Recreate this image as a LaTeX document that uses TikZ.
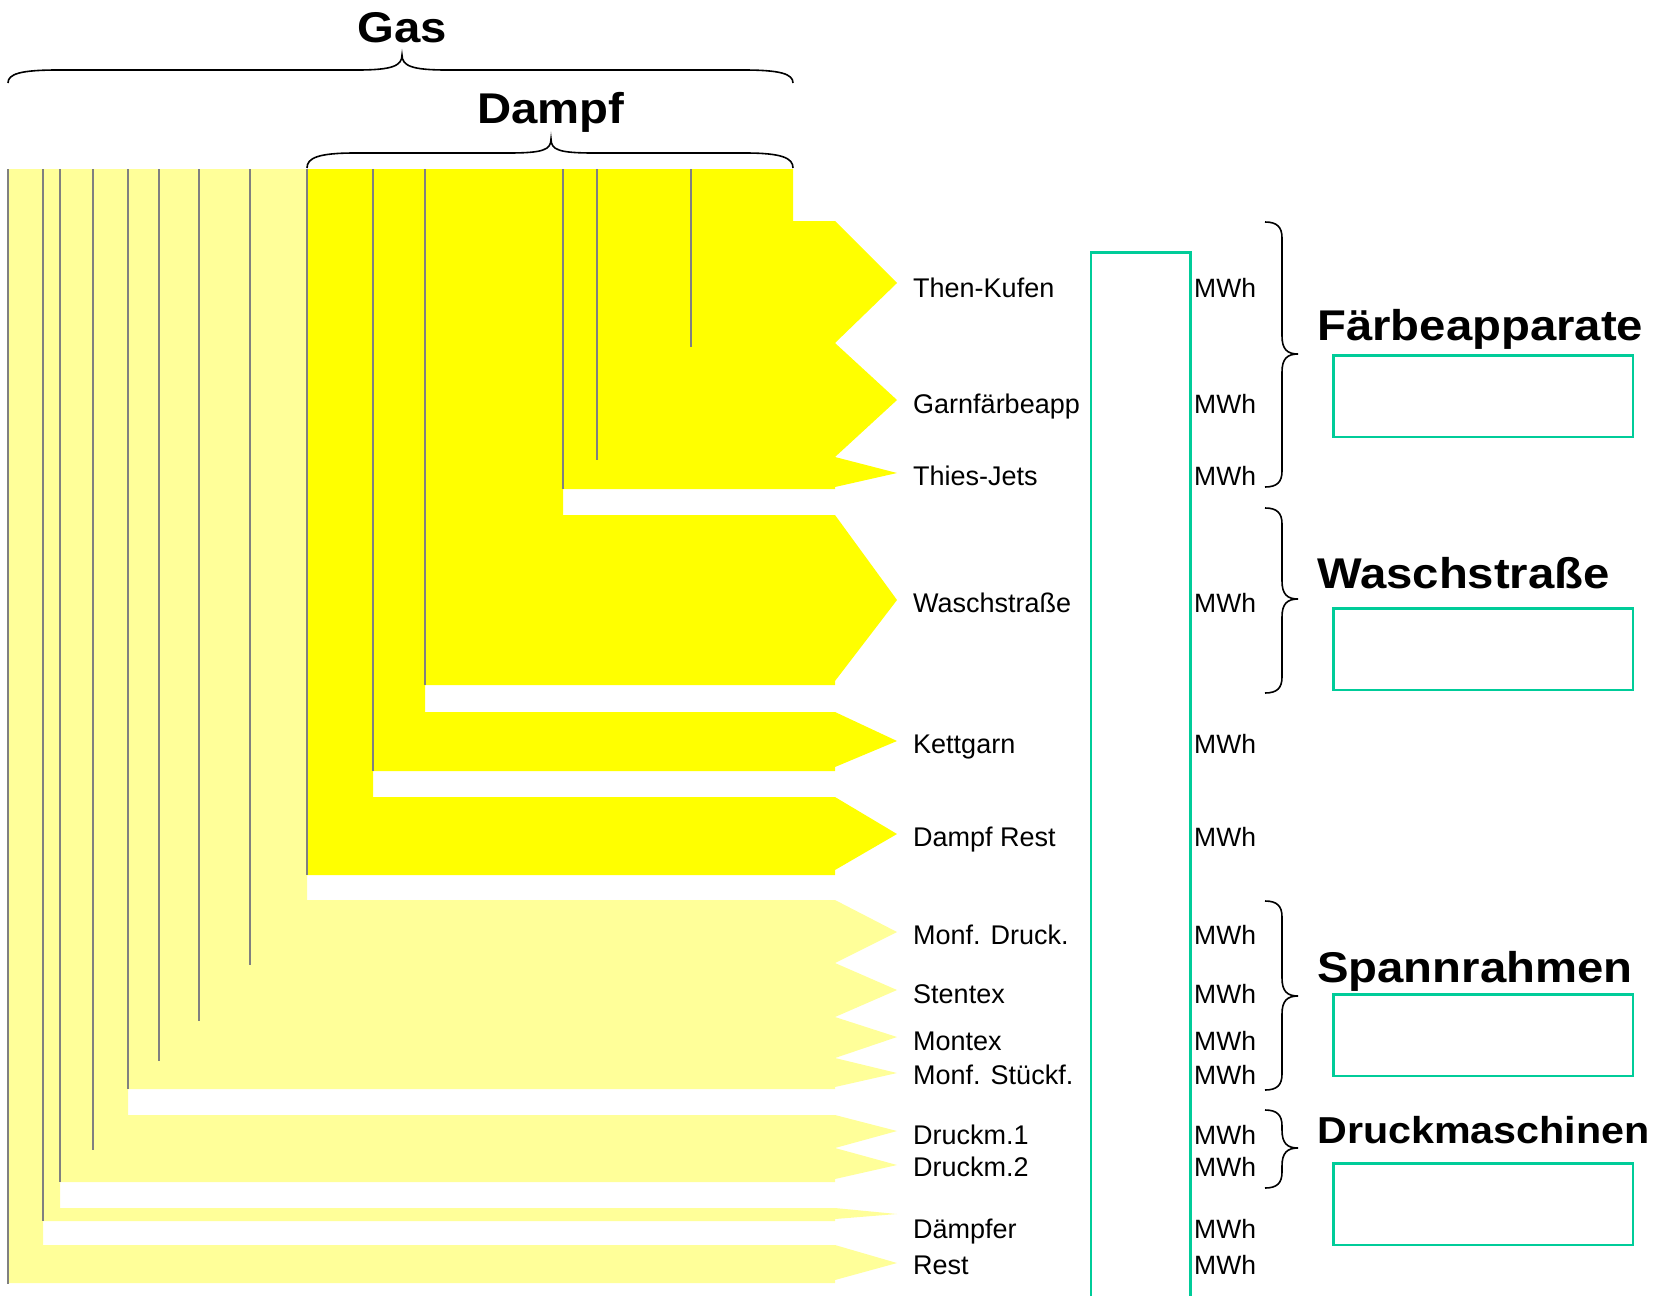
\documentclass[tikz,border=0pt]{standalone}
\usepackage{fontspec}
\setmainfont{Liberation Sans}
\newfontfamily\titlefont{Liberation Sans}[FakeStretch=1.1]
\usepackage{tikz}
\usetikzlibrary{positioning}
\definecolor{gasyellow}{HTML}{FFFF99}
\definecolor{dampfyellow}{HTML}{FFFF00}
\definecolor{tealgreen}{HTML}{00CC99}
\tikzset{
  gasflow/.style={fill=gasyellow, draw=none},
  dampfflow/.style={fill=dampfyellow, draw=none},
  divider/.style={draw=black!50, line width=1.6pt},
  bracketline/.style={draw=black, line width=1.6pt},
  tealline/.style={draw=tealgreen, line width=2.4pt},
  flowlabel/.style={anchor=base west, inner sep=0pt, font=\fontsize{27}{31}\selectfont},
  unitlabel/.style={anchor=base west, inner sep=0pt, font=\fontsize{26.5}{30}\selectfont},
  grouptitle/.style={anchor=base west, inner sep=0pt, font=\titlefont\bfseries\fontsize{43}{48}\selectfont},
  resultbox/.style={rectangle, draw=tealgreen, line width=2.5pt, minimum width=299.5pt, minimum height=81.5pt, anchor=north west, inner sep=0pt}
}
% geschweifte Klammer rechts: #1 oben, #2 Spitze, #3 unten
\newcommand{\sidebrace}[3]{%
  \draw[bracketline] (1265,#1) .. controls (1277,#1) and (1282,#1+5) .. (1282,#1+16)
    -- (1282,#2-18) .. controls (1282,#2-5) and (1287,#2) .. (1298,#2)
    .. controls (1287,#2) and (1282,#2+5) .. (1282,#2+18)
    -- (1282,#3-16) .. controls (1282,#3-5) and (1277,#3) .. (1265,#3);}

\begin{document}
\begin{tikzpicture}[x=1pt, y=-1pt]
            \useasboundingbox (0,0) rectangle (1661,1296);

            % --- Gas (hell) ---
            \path[gasflow] (8,169) -- (307,169) -- (307,900) -- (835,900) -- (897,932) -- (835,963) -- (897,990) -- (835,1017) -- (897,1037) -- (835,1058) -- (897,1073) -- (835,1087) -- (835,1089)
              -- (128,1089) -- (128,1115) -- (835,1115) -- (897,1131) -- (835,1148) -- (897,1165) -- (835,1179) -- (835,1182)
              -- (60,1182) -- (60,1208) -- (835,1208) -- (897,1214) -- (835,1219) -- (835,1221)
              -- (43,1221) -- (43,1245) -- (835,1245) -- (897,1263) -- (835,1280) -- (835,1283) -- (8,1283) -- cycle;

            % --- Dampf (kraeftig) ---
            \path[dampfflow] (307,169) -- (793,169) -- (793,221) -- (835,221) -- (897,283) -- (835,343) -- (897,400) -- (835,457) -- (897,473) -- (835,487) -- (835,489)
              -- (563,489) -- (563,515) -- (835,515) -- (897,600) -- (835,681) -- (835,685)
              -- (425,685) -- (425,712) -- (835,712) -- (897,741) -- (835,767) -- (835,771)
              -- (373,771) -- (373,797) -- (835,797) -- (897,834) -- (835,870) -- (835,875) -- (307,875) -- cycle;

            % --- Trennlinien ---
            \draw[divider] (8,169) -- (8,1284);
            \draw[divider] (43,169) -- (43,1221);
            \draw[divider] (60,169) -- (60,1182);
            \draw[divider] (93,169) -- (93,1150);
            \draw[divider] (128,169) -- (128,1089);
            \draw[divider] (159,169) -- (159,1061);
            \draw[divider] (199,169) -- (199,1021);
            \draw[divider] (250,169) -- (250,965);
            \draw[divider] (307,169) -- (307,875);
            \draw[divider] (373,169) -- (373,771);
            \draw[divider] (425,169) -- (425,685);
            \draw[divider] (563,169) -- (563,489);
            \draw[divider] (597,169) -- (597,460);
            \draw[divider] (691,169) -- (691,347);

            % --- Klammern oben ---
            \draw[bracketline] (8,83) .. controls (8,74) and (20,70) .. (58,70) -- (357,70) .. controls (392,70) and (402,66) .. (402,55)
              .. controls (402,66) and (412,70) .. (447,70) -- (743,70) .. controls (781,70) and (793,74) .. (793,83);
            \draw[bracketline] (307,168) .. controls (307,158) and (318,153) .. (355,153) -- (508,153) .. controls (543,153) and (551,150) .. (551,139)
              .. controls (551,150) and (559,153) .. (594,153) -- (745,153) .. controls (782,153) and (793,158) .. (793,168);
            \node (gas) [grouptitle, anchor=base] at (402,42) {Gas};
            \node (dampf) [grouptitle, anchor=base] at (551,123) {Dampf};

            % --- Verbraucher ---
            \node (thenkufen) [flowlabel] at (913,297) {Then-Kufen};
            \node (garn) [flowlabel] at (913,413) {Garnfärbeapp};
            \node (thies) [flowlabel] at (913,485) {Thies-Jets};
            \node (wasch) [flowlabel] at (913,612) {Waschstraße};
            \node (kett) [flowlabel] at (913,753) {Kettgarn};
            \node (dampfrest) [flowlabel] at (913,846) {Dampf Rest};
            \node (monfdruck) [flowlabel] at (913,944) {Monf. Druck.};
            \node (stentex) [flowlabel] at (913,1003) {Stentex};
            \node (montex) [flowlabel] at (913,1050) {Montex};
            \node (monfstueck) [flowlabel] at (913,1084) {Monf. Stückf.};
            \node (druck1) [flowlabel] at (913,1144) {Druckm.1};
            \node (druck2) [flowlabel] at (913,1176) {Druckm.2};
            \node (daempfer) [flowlabel] at (913,1238) {Dämpfer};
            \node (rest) [flowlabel] at (913,1274) {Rest};

            % --- Wertespalte ---
            \draw[tealline] (1091,1296) -- (1091,252.5) -- (1190.5,252.5) -- (1190.5,1296);
            \node (thenkufenmwh) [unitlabel] at (1194,297) {MWh};
            \node (garnmwh) [unitlabel] at (1194,413) {MWh};
            \node (thiesmwh) [unitlabel] at (1194,485) {MWh};
            \node (waschmwh) [unitlabel] at (1194,612) {MWh};
            \node (kettmwh) [unitlabel] at (1194,753) {MWh};
            \node (dampfrestmwh) [unitlabel] at (1194,846) {MWh};
            \node (monfdruckmwh) [unitlabel] at (1194,944) {MWh};
            \node (stentexmwh) [unitlabel] at (1194,1003) {MWh};
            \node (montexmwh) [unitlabel] at (1194,1050) {MWh};
            \node (monfstueckmwh) [unitlabel] at (1194,1084) {MWh};
            \node (druck1mwh) [unitlabel] at (1194,1144) {MWh};
            \node (druck2mwh) [unitlabel] at (1194,1176) {MWh};
            \node (daempfermwh) [unitlabel] at (1194,1238) {MWh};
            \node (restmwh) [unitlabel] at (1194,1274) {MWh};

            % --- Gruppen ---
            \sidebrace{222}{354}{487}
            \sidebrace{508}{599}{693}
            \sidebrace{901}{996}{1090}
            \sidebrace{1110}{1148}{1188}

            \node (faerbe) [grouptitle] at (1317,340) {Färbeapparate};
            \node (faerbebox) [resultbox] at (1332,354) {};
            \node (waschtitle) [grouptitle] at (1317,588) {Waschstraße};
            \node (waschbox) [resultbox] at (1332,607) {};
            \node (spann) [grouptitle] at (1317,982) {Spannrahmen};
            \node (spannbox) [resultbox] at (1332,993) {};
            \node (druckm) [grouptitle, font=\titlefont\bfseries\fontsize{37.5}{42}\selectfont] at (1317,1143) {Druckmaschinen};
            \node (druckbox) [resultbox] at (1332,1162) {};
        \end{tikzpicture}
\end{document}
